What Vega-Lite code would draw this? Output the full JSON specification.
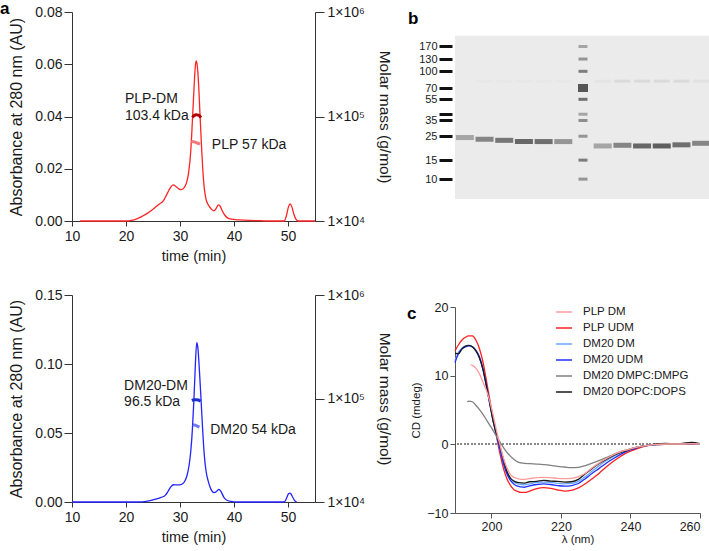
{
  "$schema": "https://vega.github.io/schema/vega-lite/v6.json",
  "padding": {"left": 0, "top": 0, "right": 2, "bottom": 0},
  "config": {
    "font": "Liberation Sans",
    "view": {"stroke": null},
    "axis": {"domainColor": "#333", "tickColor": "#333", "labelColor": "#1a1a1a", "titleColor": "#1a1a1a", "grid": false, "titleFontWeight": "normal", "labelFont": "Liberation Sans", "titleFont": "Liberation Sans"},
    "title": {"font": "Liberation Sans", "fontWeight": "bold", "fontSize": 17, "anchor": "start", "frame": "group", "color": "#000"}
  },
  "spacing": 15,
  "resolve": {"scale": {"color": "independent", "opacity": "independent"}, "legend": {"color": "independent", "opacity": "independent"}},
  "hconcat": [
    {
      "bounds": "flush",
      "spacing": 74,
      "vconcat": [
        {
          "width": 243, "height": 209,
          "title": {"text": "a", "dx": -72, "offset": -13},
          "layer": [
            {
              "layer": [
                {
                  "data": {"values": [
                    {"t":11.5,"a":0},{"t":20,"a":0},{"t":21,"a":0.0002},{"t":22,"a":0.0008},{"t":23,"a":0.0018},{"t":24,"a":0.003},{"t":25,"a":0.0045},{"t":26,"a":0.0062},{"t":27,"a":0.008},{"t":27.6,"a":0.0104},{"t":28.2,"a":0.0127},{"t":28.7,"a":0.0138},{"t":29.2,"a":0.0133},{"t":29.7,"a":0.0124},{"t":30.2,"a":0.012},{"t":30.7,"a":0.0126},{"t":31.2,"a":0.0146},{"t":31.6,"a":0.0185},{"t":32.0,"a":0.027},{"t":32.3,"a":0.0385},{"t":32.6,"a":0.051},{"t":32.85,"a":0.0595},{"t":33.0,"a":0.0613},{"t":33.15,"a":0.0602},{"t":33.4,"a":0.054},{"t":33.7,"a":0.041},{"t":34.0,"a":0.028},{"t":34.2,"a":0.0205},{"t":34.5,"a":0.0125},{"t":34.8,"a":0.0085},{"t":35.2,"a":0.0063},{"t":35.8,"a":0.0046},{"t":36.3,"a":0.0039},{"t":36.7,"a":0.0048},{"t":37.1,"a":0.0062},{"t":37.4,"a":0.0058},{"t":37.8,"a":0.004},{"t":38.3,"a":0.0022},{"t":38.8,"a":0.0012},{"t":39.5,"a":0.0007},{"t":41,"a":0.0004},{"t":43,"a":0.0002},{"t":45,"a":0.0001},{"t":46,"a":0},{"t":49.3,"a":0},{"t":49.7,"a":0.002},{"t":50.1,"a":0.0055},{"t":50.4,"a":0.0065},{"t":50.7,"a":0.0055},{"t":51.1,"a":0.0025},{"t":51.5,"a":0.0006},{"t":51.9,"a":0},{"t":55,"a":0}
                  ]},
                  "mark": {"type": "line", "color": "#ff2424", "strokeWidth": 1.3, "interpolate": "monotone"},
                  "encoding": {
                    "x": {"field": "t", "type": "quantitative", "scale": {"domain": [10, 55], "nice": false},
                      "axis": {"title": "time (min)", "values": [10,15,20,25,30,35,40,45,50,55], "labelExpr": "datum.value % 10 == 0 ? datum.value : ''", "tickSize": 5, "labelFontSize": 14, "titleFontSize": 14.5, "labelPadding": 3, "titlePadding": 6, "labelFlush": false}},
                    "y": {"field": "a", "type": "quantitative", "scale": {"domain": [0, 0.08], "nice": false},
                      "axis": {"title": "Absorbance at 280 nm (AU)", "values": [0,0.02,0.04,0.06,0.08], "format": ".2f", "tickSize": 8, "labelFontSize": 14, "titleFontSize": 16, "labelPadding": 2, "titlePadding": 10}}
                  }
                },
                {
                  "data": {"values": [
                    {"t":19.8,"a":0.0466,"label":"PLP-DM"},{"t":19.8,"a":0.0402,"label":"103.4 kDa"},{"t":35.9,"a":0.0291,"label":"PLP 57 kDa"}
                  ]},
                  "mark": {"type": "text", "align": "left", "baseline": "middle", "fontSize": 14, "color": "#1a1a1a"},
                  "encoding": {
                    "x": {"field": "t", "type": "quantitative"},
                    "y": {"field": "a", "type": "quantitative"},
                    "text": {"field": "label"}
                  }
                }
              ]
            },
            {
              "layer": [
                {
                  "data": {"values": [{"t":32.3,"m":98000},{"t":32.6,"m":102000},{"t":33.0,"m":104000},{"t":33.4,"m":103000},{"t":33.7,"m":100500},{"t":33.9,"m":98000}]},
                  "mark": {"type": "line", "color": "#b00000", "strokeWidth": 3, "interpolate": "monotone"},
                  "encoding": {
                    "x": {"field": "t", "type": "quantitative"},
                    "y": {"field": "m", "type": "quantitative", "scale": {"type": "log", "domain": [10000, 1000000], "nice": false},
                      "axis": {"orient": "right", "title": "Molar mass (g/mol)", "values": [10000,100000,1000000], "labelExpr": "datum.value == 10000 ? '1×10⁴' : datum.value == 100000 ? '1×10⁵' : '1×10⁶'", "tickSize": 9, "labelFontSize": 14, "titleFontSize": 15.5, "labelPadding": 3, "titlePadding": 12}}
                  }
                },
                {
                  "data": {"values": [{"t":32.1,"m":57500},{"t":32.5,"m":57200},{"t":32.9,"m":56500},{"t":33.3,"m":55500},{"t":33.7,"m":54500}]},
                  "mark": {"type": "line", "color": "#f07a7a", "strokeWidth": 3},
                  "encoding": {
                    "x": {"field": "t", "type": "quantitative"},
                    "y": {"field": "m", "type": "quantitative"}
                  }
                }
              ]
            }
          ],
          "resolve": {"scale": {"y": "independent"}}
        },
        {
          "width": 243, "height": 207,
          "layer": [
            {
              "layer": [
                {
                  "data": {"values": [
                    {"t":10,"a":0},{"t":12,"a":0},{"t":22.5,"a":0},{"t":23.5,"a":0.0003},{"t":24.5,"a":0.001},{"t":25.5,"a":0.002},{"t":26.5,"a":0.0033},{"t":27.3,"a":0.005},{"t":27.8,"a":0.0078},{"t":28.3,"a":0.011},{"t":28.8,"a":0.0125},{"t":29.4,"a":0.0124},{"t":29.9,"a":0.0124},{"t":30.4,"a":0.013},{"t":30.9,"a":0.0152},{"t":31.3,"a":0.0192},{"t":31.7,"a":0.027},{"t":32.0,"a":0.037},{"t":32.3,"a":0.053},{"t":32.6,"a":0.076},{"t":32.85,"a":0.1},{"t":33.1,"a":0.1155},{"t":33.3,"a":0.112},{"t":33.6,"a":0.095},{"t":33.9,"a":0.074},{"t":34.2,"a":0.052},{"t":34.5,"a":0.034},{"t":34.8,"a":0.023},{"t":35.2,"a":0.0155},{"t":35.7,"a":0.0095},{"t":36.3,"a":0.0068},{"t":36.8,"a":0.0078},{"t":37.2,"a":0.0092},{"t":37.6,"a":0.0075},{"t":38.1,"a":0.0036},{"t":38.6,"a":0.0015},{"t":39.5,"a":0.0004},{"t":40.5,"a":0},{"t":49.3,"a":0},{"t":49.7,"a":0.0025},{"t":50.1,"a":0.006},{"t":50.4,"a":0.0065},{"t":50.8,"a":0.004},{"t":51.2,"a":0.0012},{"t":51.6,"a":0}
                  ]},
                  "mark": {"type": "line", "color": "#2424ff", "strokeWidth": 1.3, "interpolate": "monotone"},
                  "encoding": {
                    "x": {"field": "t", "type": "quantitative", "scale": {"domain": [10, 55], "nice": false},
                      "axis": {"title": "time (min)", "values": [10,15,20,25,30,35,40,45,50,55], "labelExpr": "datum.value % 10 == 0 ? datum.value : ''", "tickSize": 5, "labelFontSize": 14, "titleFontSize": 14.5, "labelPadding": 3, "titlePadding": 6, "labelFlush": false}},
                    "y": {"field": "a", "type": "quantitative", "scale": {"domain": [0, 0.15], "nice": false},
                      "axis": {"title": "Absorbance at 280 nm (AU)", "values": [0,0.05,0.10,0.15], "format": ".2f", "tickSize": 8, "labelFontSize": 14, "titleFontSize": 16, "labelPadding": 2, "titlePadding": 10}}
                  }
                },
                {
                  "data": {"values": [
                    {"t":19.65,"a":0.0844,"label":"DM20-DM"},{"t":19.65,"a":0.0728,"label":"96.5 kDa"},{"t":35.6,"a":0.0523,"label":"DM20 54 kDa"}
                  ]},
                  "mark": {"type": "text", "align": "left", "baseline": "middle", "fontSize": 14, "color": "#1a1a1a"},
                  "encoding": {
                    "x": {"field": "t", "type": "quantitative"},
                    "y": {"field": "a", "type": "quantitative"},
                    "text": {"field": "label"}
                  }
                }
              ]
            },
            {
              "layer": [
                {
                  "data": {"values": [{"t":32.2,"m":95500},{"t":32.6,"m":97200},{"t":33.0,"m":97500},{"t":33.4,"m":96800},{"t":33.8,"m":94000}]},
                  "mark": {"type": "line", "color": "#1a2fd0", "strokeWidth": 3, "interpolate": "monotone"},
                  "encoding": {
                    "x": {"field": "t", "type": "quantitative"},
                    "y": {"field": "m", "type": "quantitative", "scale": {"type": "log", "domain": [10000, 1000000], "nice": false},
                      "axis": {"orient": "right", "title": "Molar mass (g/mol)", "values": [10000,100000,1000000], "labelExpr": "datum.value == 10000 ? '1×10⁴' : datum.value == 100000 ? '1×10⁵' : '1×10⁶'", "tickSize": 9, "labelFontSize": 14, "titleFontSize": 15.5, "labelPadding": 3, "titlePadding": 12}}
                  }
                },
                {
                  "data": {"values": [{"t":32.4,"m":56000},{"t":32.8,"m":55200},{"t":33.2,"m":54200},{"t":33.6,"m":53000}]},
                  "mark": {"type": "line", "color": "#6a7cf0", "strokeWidth": 3},
                  "encoding": {
                    "x": {"field": "t", "type": "quantitative"},
                    "y": {"field": "m", "type": "quantitative"}
                  }
                }
              ]
            }
          ],
          "resolve": {"scale": {"y": "independent"}}
        }
      ]
    },
    {
      "bounds": "flush",
      "spacing": 108,
      "resolve": {"scale": {"color": "independent", "opacity": "independent"}, "legend": {"color": "independent", "opacity": "independent"}},
      "vconcat": [
        {
          "width": 256, "height": 187,
          "title": {"text": "b", "dx": -47, "offset": -16},
          "layer": [
            {
              "data": {"values": [{}]},
              "mark": {"type": "rect", "color": "#ebebeb"},
              "encoding": {
                "x": {"datum": 0.5, "type": "quantitative", "scale": {"domain": [0.5, 13.5], "nice": false}, "axis": null},
                "x2": {"datum": 13.5},
                "y": {"datum": 6.54, "type": "quantitative", "scale": {"type": "log", "domain": [6.54, 355], "nice": false},
                  "axis": {"title": null, "values": [10,15,25,35,40,55,70,100,130,170], "domain": false, "tickSize": 13, "tickWidth": 3, "tickColor": "#111", "labelFontSize": 11, "labelPadding": 2, "offset": 3}},
                "y2": {"datum": 213.4}
              }
            },
            {
              "data": {"values": [
                {"lane":1,"mass":24.3,"intensity":0.45},{"lane":2,"mass":23.4,"intensity":0.65},{"lane":3,"mass":22.9,"intensity":0.75},{"lane":4,"mass":22.3,"intensity":0.85},{"lane":5,"mass":22.3,"intensity":0.8},{"lane":6,"mass":22.3,"intensity":0.55},
                {"lane":8,"mass":20.3,"intensity":0.45},{"lane":9,"mass":20.6,"intensity":0.65},{"lane":10,"mass":20.3,"intensity":0.85},{"lane":11,"mass":20.3,"intensity":0.9},{"lane":12,"mass":20.8,"intensity":0.8},{"lane":13,"mass":21.5,"intensity":0.65}
              ]},
              "mark": {"type": "tick", "orient": "horizontal", "size": 18, "thickness": 5, "color": "#333"},
              "encoding": {
                "x": {"field": "lane", "type": "quantitative"},
                "y": {"field": "mass", "type": "quantitative"},
                "opacity": {"field": "intensity", "type": "quantitative", "scale": {"domain": [0, 1], "range": [0, 0.85]}, "legend": null}
              }
            },
            {
              "data": {"values": [
                {"lane":2,"mass":81,"intensity":0.025},{"lane":3,"mass":81,"intensity":0.025},{"lane":4,"mass":81,"intensity":0.025},{"lane":5,"mass":81,"intensity":0.025},{"lane":6,"mass":81,"intensity":0.025},
                {"lane":8,"mass":81,"intensity":0.04},{"lane":9,"mass":81,"intensity":0.1},{"lane":10,"mass":81,"intensity":0.1},{"lane":11,"mass":81,"intensity":0.1},{"lane":12,"mass":81,"intensity":0.1},{"lane":13,"mass":81,"intensity":0.06}
              ]},
              "mark": {"type": "tick", "orient": "horizontal", "size": 16, "thickness": 3, "color": "#333"},
              "encoding": {
                "x": {"field": "lane", "type": "quantitative"},
                "y": {"field": "mass", "type": "quantitative"},
                "opacity": {"field": "intensity", "type": "quantitative", "legend": null}
              }
            },
            {
              "data": {"values": [
                {"lane":7,"mass":170,"intensity":0.45},{"lane":7,"mass":130,"intensity":0.55},{"lane":7,"mass":100,"intensity":0.7},{"lane":7,"mass":55,"intensity":0.8},{"lane":7,"mass":40,"intensity":0.45},{"lane":7,"mass":35,"intensity":0.6},{"lane":7,"mass":25,"intensity":0.55},{"lane":7,"mass":15,"intensity":0.7},{"lane":7,"mass":10,"intensity":0.55}
              ]},
              "mark": {"type": "tick", "orient": "horizontal", "size": 9, "thickness": 3, "color": "#333"},
              "encoding": {
                "x": {"field": "lane", "type": "quantitative"},
                "y": {"field": "mass", "type": "quantitative"},
                "opacity": {"field": "intensity", "type": "quantitative", "legend": null}
              }
            },
            {
              "data": {"values": [{"lane":7,"mass":70,"intensity":0.95}]},
              "mark": {"type": "tick", "orient": "horizontal", "size": 10, "thickness": 8, "color": "#333"},
              "encoding": {
                "x": {"field": "lane", "type": "quantitative"},
                "y": {"field": "mass", "type": "quantitative"},
                "opacity": {"field": "intensity", "type": "quantitative", "legend": null}
              }
            }
          ]
        },
        {
          "width": 245, "height": 206,
          "title": {"text": "c", "dx": -48, "offset": -22},
          "data": {"values": [
            {"w":189.5,"PLP UDM":13.6,"DM20 DM":12.2,"DM20 UDM":11.9,"DM20 DOPC:DOPS":13.3},
            {"w":190.5,"PLP UDM":14.5,"DM20 DM":13.4,"DM20 UDM":13.2,"DM20 DOPC:DOPS":13.2},
            {"w":191.5,"PLP UDM":15.2,"DM20 DM":14.0,"DM20 UDM":13.9,"DM20 DOPC:DOPS":13.9},
            {"w":192.5,"PLP UDM":15.6,"DM20 DM":14.3,"DM20 UDM":14.2,"DM20 DOPC:DOPS":14.3},
            {"w":193.0,"DM20 DMPC:DMPG":6.2},
            {"w":193.5,"PLP UDM":15.8,"DM20 DM":14.4,"DM20 UDM":14.35,"DM20 DMPC:DMPG":6.3,"DM20 DOPC:DOPS":14.4},
            {"w":194.0,"PLP DM":11.6},
            {"w":194.5,"PLP DM":11.5,"PLP UDM":15.8,"DM20 DM":14.2,"DM20 UDM":14.2,"DM20 DMPC:DMPG":6.2,"DM20 DOPC:DOPS":14.2},
            {"w":195.5,"PLP DM":11.1,"PLP UDM":15.2,"DM20 DM":13.7,"DM20 UDM":13.7,"DM20 DMPC:DMPG":5.7,"DM20 DOPC:DOPS":13.6},
            {"w":196.5,"PLP DM":10.3,"PLP UDM":14.0,"DM20 DM":12.7,"DM20 UDM":12.8,"DM20 DMPC:DMPG":5.1,"DM20 DOPC:DOPS":12.6},
            {"w":197.5,"PLP DM":9.1,"PLP UDM":12.1,"DM20 DM":11.0,"DM20 UDM":11.1,"DM20 DMPC:DMPG":4.4,"DM20 DOPC:DOPS":11.0},
            {"w":198.5,"PLP DM":7.9,"PLP UDM":9.4,"DM20 DM":8.6,"DM20 UDM":8.7,"DM20 DMPC:DMPG":3.6,"DM20 DOPC:DOPS":8.6},
            {"w":199.5,"PLP DM":6.3,"PLP UDM":6.5,"DM20 DM":5.9,"DM20 UDM":6.0,"DM20 DMPC:DMPG":2.8,"DM20 DOPC:DOPS":6.0},
            {"w":200.5,"PLP DM":4.2,"PLP UDM":3.7,"DM20 DM":3.4,"DM20 UDM":3.4,"DM20 DMPC:DMPG":2.0,"DM20 DOPC:DOPS":3.3},
            {"w":201.5,"PLP DM":1.9,"PLP UDM":1.0,"DM20 DM":1.2,"DM20 UDM":1.2,"DM20 DMPC:DMPG":1.1,"DM20 DOPC:DOPS":1.4},
            {"w":202.5,"PLP DM":-0.2,"PLP UDM":-1.5,"DM20 DM":-0.8,"DM20 UDM":-0.9,"DM20 DMPC:DMPG":0.3,"DM20 DOPC:DOPS":-0.4},
            {"w":203.5,"PLP DM":-2.1,"PLP UDM":-3.6,"DM20 DM":-2.7,"DM20 UDM":-2.9,"DM20 DMPC:DMPG":-0.5,"DM20 DOPC:DOPS":-2.3},
            {"w":204.5,"PLP DM":-3.5,"PLP UDM":-5.1,"DM20 DM":-4.1,"DM20 UDM":-4.4,"DM20 DMPC:DMPG":-1.2,"DM20 DOPC:DOPS":-4.0},
            {"w":205.5,"PLP DM":-4.4,"PLP UDM":-6.0,"DM20 DM":-5.0,"DM20 UDM":-5.3,"DM20 DMPC:DMPG":-1.75,"DM20 DOPC:DOPS":-4.95},
            {"w":206.5,"PLP DM":-4.8,"PLP UDM":-6.6,"DM20 DM":-5.5,"DM20 UDM":-5.8,"DM20 DMPC:DMPG":-2.2,"DM20 DOPC:DOPS":-5.35},
            {"w":207.5,"PLP DM":-5.0,"PLP UDM":-6.85,"DM20 DM":-5.75,"DM20 UDM":-6.1,"DM20 DMPC:DMPG":-2.55,"DM20 DOPC:DOPS":-5.55},
            {"w":208.5,"PLP DM":-5.1,"PLP UDM":-7.0,"DM20 DM":-5.85,"DM20 UDM":-6.2,"DM20 DMPC:DMPG":-2.7,"DM20 DOPC:DOPS":-5.6},
            {"w":209.5,"PLP DM":-5.1,"PLP UDM":-7.0,"DM20 DM":-5.9,"DM20 UDM":-6.25,"DM20 DMPC:DMPG":-2.78,"DM20 DOPC:DOPS":-5.65},
            {"w":211,"PLP DM":-5.0,"PLP UDM":-6.8,"DM20 DM":-5.75,"DM20 UDM":-6.05,"DM20 DMPC:DMPG":-2.82,"DM20 DOPC:DOPS":-5.45},
            {"w":213,"PLP DM":-4.85,"PLP UDM":-6.45,"DM20 DM":-5.55,"DM20 UDM":-5.85,"DM20 DMPC:DMPG":-2.88,"DM20 DOPC:DOPS":-5.4},
            {"w":215,"PLP DM":-4.8,"PLP UDM":-6.3,"DM20 DM":-5.5,"DM20 UDM":-5.75,"DM20 DMPC:DMPG":-2.95,"DM20 DOPC:DOPS":-5.25},
            {"w":217,"PLP DM":-4.85,"PLP UDM":-6.4,"DM20 DM":-5.55,"DM20 UDM":-5.85,"DM20 DMPC:DMPG":-3.05,"DM20 DOPC:DOPS":-5.35},
            {"w":219,"PLP DM":-4.95,"PLP UDM":-6.65,"DM20 DM":-5.7,"DM20 UDM":-6.0,"DM20 DMPC:DMPG":-3.2,"DM20 DOPC:DOPS":-5.4},
            {"w":221,"PLP DM":-5.0,"PLP UDM":-6.8,"DM20 DM":-5.75,"DM20 UDM":-6.1,"DM20 DMPC:DMPG":-3.3,"DM20 DOPC:DOPS":-5.5},
            {"w":223,"PLP DM":-4.95,"PLP UDM":-6.7,"DM20 DM":-5.7,"DM20 UDM":-6.0,"DM20 DMPC:DMPG":-3.4,"DM20 DOPC:DOPS":-5.45},
            {"w":225,"PLP DM":-4.7,"PLP UDM":-6.35,"DM20 DM":-5.4,"DM20 UDM":-5.7,"DM20 DMPC:DMPG":-3.35,"DM20 DOPC:DOPS":-5.1},
            {"w":227,"PLP DM":-4.2,"PLP UDM":-5.75,"DM20 DM":-4.7,"DM20 UDM":-5.0,"DM20 DMPC:DMPG":-3.1,"DM20 DOPC:DOPS":-4.3},
            {"w":229,"PLP DM":-3.4,"PLP UDM":-5.0,"DM20 DM":-3.9,"DM20 UDM":-4.2,"DM20 DMPC:DMPG":-2.75,"DM20 DOPC:DOPS":-3.5},
            {"w":231,"PLP DM":-2.7,"PLP UDM":-4.2,"DM20 DM":-3.1,"DM20 UDM":-3.5,"DM20 DMPC:DMPG":-2.35,"DM20 DOPC:DOPS":-2.8},
            {"w":233,"PLP DM":-2.1,"PLP UDM":-3.3,"DM20 DM":-2.4,"DM20 UDM":-2.75,"DM20 DMPC:DMPG":-1.95,"DM20 DOPC:DOPS":-2.2},
            {"w":235,"PLP DM":-1.55,"PLP UDM":-2.5,"DM20 DM":-1.8,"DM20 UDM":-2.1,"DM20 DMPC:DMPG":-1.5,"DM20 DOPC:DOPS":-1.65},
            {"w":237,"PLP DM":-1.1,"PLP UDM":-1.8,"DM20 DM":-1.25,"DM20 UDM":-1.5,"DM20 DMPC:DMPG":-1.1,"DM20 DOPC:DOPS":-1.2},
            {"w":239,"PLP DM":-0.8,"PLP UDM":-1.2,"DM20 DM":-0.85,"DM20 UDM":-1.0,"DM20 DMPC:DMPG":-0.8,"DM20 DOPC:DOPS":-0.9},
            {"w":241,"PLP DM":-0.5,"PLP UDM":-0.8,"DM20 DM":-0.5,"DM20 UDM":-0.65,"DM20 DMPC:DMPG":-0.5,"DM20 DOPC:DOPS":-0.55},
            {"w":243,"PLP DM":-0.3,"PLP UDM":-0.45,"DM20 DM":-0.3,"DM20 UDM":-0.35,"DM20 DMPC:DMPG":-0.3,"DM20 DOPC:DOPS":-0.3},
            {"w":245,"PLP DM":-0.15,"PLP UDM":-0.2,"DM20 DM":-0.1,"DM20 UDM":-0.15,"DM20 DMPC:DMPG":-0.15,"DM20 DOPC:DOPS":-0.15},
            {"w":247.5,"PLP DM":0,"PLP UDM":-0.05,"DM20 DM":0,"DM20 UDM":-0.05,"DM20 DMPC:DMPG":-0.05,"DM20 DOPC:DOPS":0.05},
            {"w":250,"PLP DM":0.05,"PLP UDM":0,"DM20 DM":0.05,"DM20 UDM":0,"DM20 DMPC:DMPG":0,"DM20 DOPC:DOPS":0.12},
            {"w":252.5,"PLP DM":0.05,"PLP UDM":0,"DM20 DM":0.05,"DM20 UDM":0,"DM20 DMPC:DMPG":0.05,"DM20 DOPC:DOPS":0.05},
            {"w":255,"PLP DM":0.05,"PLP UDM":0,"DM20 DM":0.05,"DM20 UDM":0.05,"DM20 DMPC:DMPG":0.05,"DM20 DOPC:DOPS":0.15},
            {"w":257.5,"PLP DM":0.1,"PLP UDM":0.05,"DM20 DM":0.1,"DM20 UDM":0.1,"DM20 DMPC:DMPG":0.1,"DM20 DOPC:DOPS":0.28},
            {"w":260,"PLP DM":0.05,"PLP UDM":0.05,"DM20 DM":0.05,"DM20 UDM":0.05,"DM20 DMPC:DMPG":0.05,"DM20 DOPC:DOPS":0.1}
          ]},
          "layer": [
            {
              "mark": {"type": "rule", "strokeDash": [1.5, 2], "color": "#888", "strokeWidth": 1},
              "encoding": {"y": {"datum": 0, "type": "quantitative"}}
            },
            {
              "transform": [
                {"fold": ["PLP DM", "PLP UDM", "DM20 DM", "DM20 UDM", "DM20 DMPC:DMPG", "DM20 DOPC:DOPS"], "as": ["s", "v"]},
                {"filter": "isValid(datum.v)"}
              ],
              "mark": {"type": "line", "strokeWidth": 1.3, "interpolate": "monotone"},
              "encoding": {
                "x": {"field": "w", "type": "quantitative", "scale": {"domain": [189.5, 260], "nice": false},
                  "axis": {"title": "λ (nm)", "values": [200,220,240,260], "tickSize": 5, "labelFontSize": 12.5, "titleFontSize": 11.5, "labelPadding": 2, "titlePadding": 1, "domainColor": "#555", "tickColor": "#555"}},
                "y": {"field": "v", "type": "quantitative", "scale": {"domain": [-10, 20], "nice": false},
                  "axis": {"title": "CD (mdeg)", "values": [-10,0,10,20], "tickSize": 5, "labelFontSize": 12.5, "titleFontSize": 11.5, "labelPadding": 2, "titlePadding": 5, "domainColor": "#555", "tickColor": "#555"}},
                "color": {"field": "s", "type": "nominal", "title": null,
                  "scale": {"domain": ["PLP DM", "PLP UDM", "DM20 DM", "DM20 UDM", "DM20 DMPC:DMPG", "DM20 DOPC:DOPS"], "range": ["#ff9c9c", "#ff2020", "#6aa8ff", "#2030ff", "#808080", "#1a1a1a"]},
                  "legend": {"orient": "none", "legendX": 100, "legendY": -4, "symbolType": "stroke", "symbolSize": 260, "symbolStrokeWidth": 1.5, "labelFontSize": 11.5, "labelColor": "#1a1a1a", "rowPadding": 1, "labelOffset": 10, "padding": 0}}
              }
            }
          ]
        }
      ]
    }
  ]
}
